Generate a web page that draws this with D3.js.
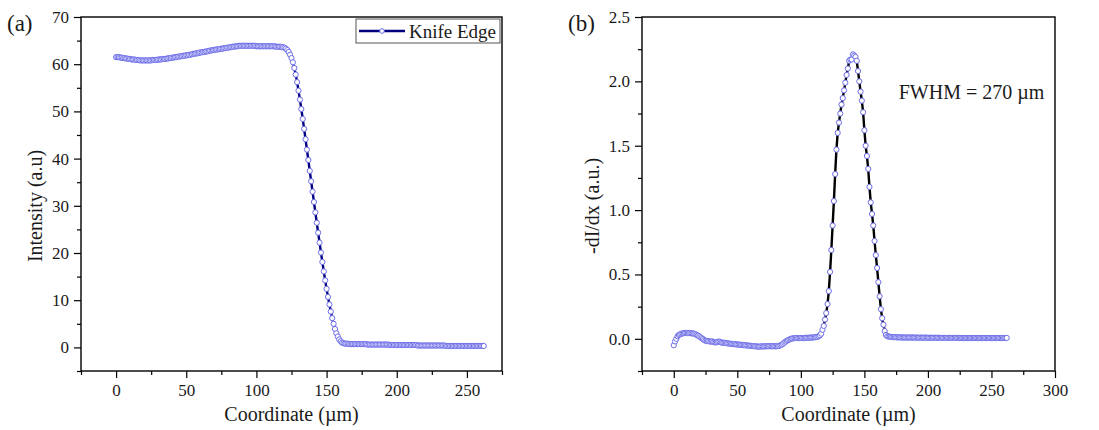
<!DOCTYPE html>
<html>
<head>
<meta charset="utf-8">
<script src="https://cdn.jsdelivr.net/npm/d3@7"></script>
<style>
    body { margin: 0; background: #fff; }
    .tick line { stroke: #000; stroke-width: 1.2; }
    .domain { display: none; }
</style>
</head>
<body>
<div id="wrapper"></div>
<script>
// 1. data (coordinate step 1 µm, 0..262)
const coordinates = d3.range(0, 263);

const intensity = [
    61.5, 61.5, 61.5, 61.4, 61.4, 61.3, 61.3, 61.2, 61.2, 61.1,
    61.1, 61.0, 61.0, 61.0, 60.9, 60.9, 60.9, 60.8, 60.8, 60.8,
    60.8, 60.8, 60.8, 60.8, 60.8, 60.8, 60.9, 60.9, 60.9, 60.9,
    61.0, 61.0, 61.0, 61.1, 61.1, 61.1, 61.2, 61.2, 61.3, 61.3,
    61.4, 61.4, 61.5, 61.5, 61.6, 61.6, 61.7, 61.7, 61.8, 61.8,
    61.9, 61.9, 62.0, 62.0, 62.1, 62.2, 62.2, 62.3, 62.3, 62.4,
    62.5, 62.5, 62.6, 62.6, 62.7, 62.7, 62.8, 62.9, 62.9, 63.0,
    63.0, 63.1, 63.1, 63.2, 63.2, 63.3, 63.3, 63.4, 63.4, 63.5,
    63.5, 63.6, 63.6, 63.7, 63.7, 63.8, 63.8, 63.8, 63.9, 63.9,
    63.9, 63.9, 63.9, 63.9, 63.9, 63.9, 63.9, 63.9, 63.9, 63.9,
    63.8, 63.8, 63.8, 63.8, 63.8, 63.8, 63.8, 63.8, 63.8, 63.8,
    63.8, 63.8, 63.8, 63.8, 63.7, 63.7, 63.7, 63.7, 63.6, 63.6,
    63.5, 63.3, 63.0, 62.6, 62.0, 61.3, 60.4, 59.2, 57.8, 56.2,
    54.4, 52.5, 50.5, 48.4, 46.3, 44.1, 41.9, 39.7, 37.4, 35.2,
    33.0, 30.8, 28.6, 26.4, 24.3, 22.2, 20.1, 18.1, 16.1, 14.2,
    12.4, 10.7, 9.1, 7.6, 6.2, 5.0, 3.9, 3.0, 2.3, 1.7,
    1.3, 1.0, 0.9, 0.8, 0.8, 0.8, 0.7, 0.7, 0.7, 0.7,
    0.7, 0.7, 0.7, 0.7, 0.7, 0.7, 0.7, 0.7, 0.7, 0.6,
    0.6, 0.6, 0.6, 0.6, 0.6, 0.6, 0.6, 0.6, 0.6, 0.6,
    0.6, 0.6, 0.6, 0.6, 0.6, 0.5, 0.5, 0.5, 0.5, 0.5,
    0.5, 0.5, 0.5, 0.5, 0.5, 0.5, 0.5, 0.5, 0.5, 0.5,
    0.5, 0.5, 0.5, 0.5, 0.5, 0.4, 0.4, 0.4, 0.4, 0.4,
    0.4, 0.4, 0.4, 0.4, 0.4, 0.4, 0.4, 0.4, 0.4, 0.4,
    0.4, 0.4, 0.4, 0.4, 0.4, 0.3, 0.3, 0.3, 0.3, 0.3,
    0.3, 0.3, 0.3, 0.3, 0.3, 0.3, 0.3, 0.3, 0.3, 0.3,
    0.3, 0.3, 0.3, 0.3, 0.3, 0.3, 0.3, 0.3, 0.3, 0.3,
    0.3, 0.3, 0.3
];

const derivative = [
    -0.050, -0.020, 0.000, 0.020, 0.030, 0.035, 0.040, 0.042, 0.044, 0.045,
    0.045, 0.045, 0.044, 0.044, 0.043, 0.042, 0.040, 0.036, 0.030, 0.025,
    0.020, 0.012, 0.005, -0.002, -0.010, -0.015, -0.018, -0.017, -0.020, -0.022,
    -0.020, -0.024, -0.027, -0.028, -0.025, -0.022, -0.022, -0.027, -0.030, -0.031,
    -0.030, -0.033, -0.035, -0.036, -0.037, -0.039, -0.040, -0.041, -0.042, -0.043,
    -0.044, -0.045, -0.046, -0.047, -0.048, -0.049, -0.050, -0.051, -0.052, -0.053,
    -0.054, -0.055, -0.056, -0.057, -0.058, -0.059, -0.060, -0.061, -0.060, -0.058,
    -0.059, -0.060, -0.058, -0.057, -0.058, -0.058, -0.057, -0.058, -0.058, -0.057,
    -0.058, -0.058, -0.057, -0.055, -0.050, -0.045, -0.038, -0.030, -0.022, -0.015,
    -0.010, -0.005, -0.001, 0.002, 0.004, 0.005, 0.006, 0.006, 0.005, 0.006,
    0.007, 0.006, 0.005, 0.007, 0.008, 0.008, 0.007, 0.009, 0.010, 0.010,
    0.011, 0.012, 0.013, 0.015, 0.020, 0.028, 0.040, 0.070, 0.100, 0.150,
    0.20, 0.27, 0.37, 0.52, 0.69, 0.88, 1.07, 1.28, 1.47, 1.60,
    1.68, 1.75, 1.82, 1.87, 1.93, 1.99, 2.05, 2.10, 2.16, 2.17,
    2.17, 2.21, 2.20, 2.19, 2.16, 2.08, 2.00, 1.92, 1.85, 1.76,
    1.62, 1.50, 1.42, 1.32, 1.18, 1.06, 0.97, 0.88, 0.76, 0.65,
    0.55, 0.44, 0.33, 0.23, 0.16, 0.11, 0.06, 0.030, 0.020, 0.018,
    0.016, 0.015, 0.014, 0.013, 0.013, 0.012, 0.012, 0.011, 0.011, 0.011,
    0.010, 0.010, 0.010, 0.010, 0.010, 0.010, 0.010, 0.010, 0.010, 0.010,
    0.010, 0.009, 0.009, 0.009, 0.009, 0.009, 0.009, 0.009, 0.009, 0.009,
    0.008, 0.008, 0.008, 0.008, 0.008, 0.008, 0.008, 0.008, 0.008, 0.008,
    0.007, 0.007, 0.007, 0.007, 0.007, 0.007, 0.007, 0.007, 0.007, 0.007,
    0.007, 0.007, 0.007, 0.007, 0.007, 0.006, 0.006, 0.006, 0.006, 0.006,
    0.006, 0.006, 0.006, 0.006, 0.006, 0.006, 0.006, 0.006, 0.006, 0.006,
    0.006, 0.006, 0.006, 0.006, 0.006, 0.006, 0.006, 0.006, 0.006, 0.006,
    0.006, 0.006, 0.006, 0.006, 0.006, 0.006, 0.006, 0.006, 0.006, 0.006,
    0.006, 0.006, 0.007
];

const intensityTicks = [0, 10, 20, 30, 40, 50, 60, 70];
const intensityMinorTicks = [-5, 5, 15, 25, 35, 45, 55, 65];
const coordTicksA = [0, 50, 100, 150, 200, 250];
const coordMinorTicksA = [-25, 25, 75, 125, 175, 225, 275];
const derivTicks = [0.0, 0.5, 1.0, 1.5, 2.0, 2.5];
const derivMinorTicks = [-0.25, 0.25, 0.75, 1.25, 1.75, 2.25];
const coordTicksB = [0, 50, 100, 150, 200, 250, 300];
const coordMinorTicksB = [-25, 25, 75, 125, 175, 225, 275];

// 2. dimensions
const width = 1099, height = 430;
const serif = "Liberation Serif";
const textColor = "#1a1a1a";

const panels = [
    {
        label: "(a)", left: 81, right: 502, top: 17, bottom: 371,
        xDomain: [-25, 275], yDomain: [-5, 70],
        xTicks: coordTicksA, xMinor: coordMinorTicksA,
        yTicks: intensityTicks, yMinor: intensityMinorTicks, yFormat: d3.format("d"),
        values: intensity, lineColor: "#00007f",
        yTitle: "Intensity (a.u)", yTitleX: 35
    },
    {
        label: "(b)", left: 642, right: 1055, top: 17, bottom: 371,
        xDomain: [-25, 300], yDomain: [-0.25, 2.5],
        xTicks: coordTicksB, xMinor: coordMinorTicksB,
        yTicks: derivTicks, yMinor: derivMinorTicks, yFormat: d3.format(".1f"),
        values: derivative, lineColor: "#000",
        yTitle: "-dI/dx (a.u.)", yTitleX: 592
    }
];

const markerColor = "#6d6de9";

// 3. draw canvas
const svg = d3.select("#wrapper")
    .append("svg")
    .attr("width", width)
    .attr("height", height)
    .attr("font-family", serif);

const styleAxis = sel => sel
    .attr("font-family", serif)
    .attr("font-size", 17)
    .call(s => s.selectAll("text").attr("fill", textColor));

panels.forEach(p => {
    const x = d3.scaleLinear().domain(p.xDomain).range([p.left, p.right]);
    const y = d3.scaleLinear().domain(p.yDomain).range([p.bottom, p.top]);
    const g = svg.append("g");

    const points = coordinates.map((c, i) => ({ x: c, y: p.values[i] }));

    // line + markers
    const line = d3.line().x(d => x(d.x)).y(d => y(d.y));
    g.append("path")
        .datum(points)
        .attr("fill", "none")
        .attr("stroke", p.lineColor)
        .attr("stroke-width", 2.4)
        .attr("d", line);

    g.selectAll(".pt")
        .data(points)
        .join("circle")
        .attr("class", "pt")
        .attr("cx", d => x(d.x))
        .attr("cy", d => y(d.y))
        .attr("r", 2.6)
        .attr("fill", "#fff")
        .attr("stroke", markerColor)
        .attr("stroke-width", 1);

    // axes
    g.append("g")
        .attr("transform", `translate(${p.left},0)`)
        .call(d3.axisLeft(y).tickValues(p.yTicks).tickFormat(p.yFormat).tickSize(7).tickPadding(5))
        .call(styleAxis);
    g.append("g")
        .attr("transform", `translate(${p.left},0)`)
        .call(d3.axisLeft(y).tickValues(p.yMinor).tickFormat("").tickSize(4));
    g.append("g")
        .attr("transform", `translate(0,${p.bottom})`)
        .call(d3.axisBottom(x).tickValues(p.xTicks).tickFormat(d3.format("d")).tickSize(7).tickPadding(6))
        .call(styleAxis);
    g.append("g")
        .attr("transform", `translate(0,${p.bottom})`)
        .call(d3.axisBottom(x).tickValues(p.xMinor).tickFormat("").tickSize(4));

    // frame
    g.append("rect")
        .attr("x", p.left)
        .attr("y", p.top)
        .attr("width", p.right - p.left)
        .attr("height", p.bottom - p.top)
        .attr("fill", "none")
        .attr("stroke", "#000")
        .attr("stroke-width", 1.4);

    // titles
    g.append("text")
        .attr("x", (p.left + p.right) / 2)
        .attr("y", 421)
        .attr("text-anchor", "middle")
        .attr("font-family", serif)
        .attr("font-size", 20)
        .attr("fill", textColor)
        .text("Coordinate (µm)");

    g.append("text")
        .attr("transform", `translate(${p.yTitleX},${(p.top + p.bottom) / 2 + 12}) rotate(-90)`)
        .attr("text-anchor", "middle")
        .attr("dy", "0.35em")
        .attr("font-family", serif)
        .attr("font-size", 20)
        .attr("fill", textColor)
        .text(p.yTitle);

    g.append("text")
        .attr("x", p.left - 74)
        .attr("y", 31)
        .attr("font-family", serif)
        .attr("font-size", 23)
        .attr("fill", textColor)
        .text(p.label);

    p.x = x;
    p.y = y;
});

// 4. peripherals
// legend for panel (a)
const pa = panels[0];
const legend = svg.append("g").attr("transform", `translate(${pa.right - 146},${pa.top + 2})`);
legend.append("rect")
    .attr("width", 144).attr("height", 24)
    .attr("fill", "#fff").attr("stroke", "#555").attr("stroke-width", 1);
legend.append("line")
    .attr("x1", 3).attr("x2", 49).attr("y1", 12).attr("y2", 12)
    .attr("stroke", pa.lineColor).attr("stroke-width", 2.4);
legend.append("circle")
    .attr("cx", 26).attr("cy", 12).attr("r", 2.3)
    .attr("fill", "#fff").attr("stroke", markerColor);
legend.append("text")
    .attr("x", 53).attr("y", 19)
    .attr("font-family", serif)
    .attr("font-size", 19).attr("fill", textColor)
    .text("Knife Edge");

// annotation for panel (b)
const pb = panels[1];
svg.append("text")
    .attr("x", pb.x(177))
    .attr("y", pb.y(1.86))
    .attr("font-family", serif)
    .attr("font-size", 20)
    .attr("fill", textColor)
    .text("FWHM = 270 µm");
</script>
</body>
</html>
